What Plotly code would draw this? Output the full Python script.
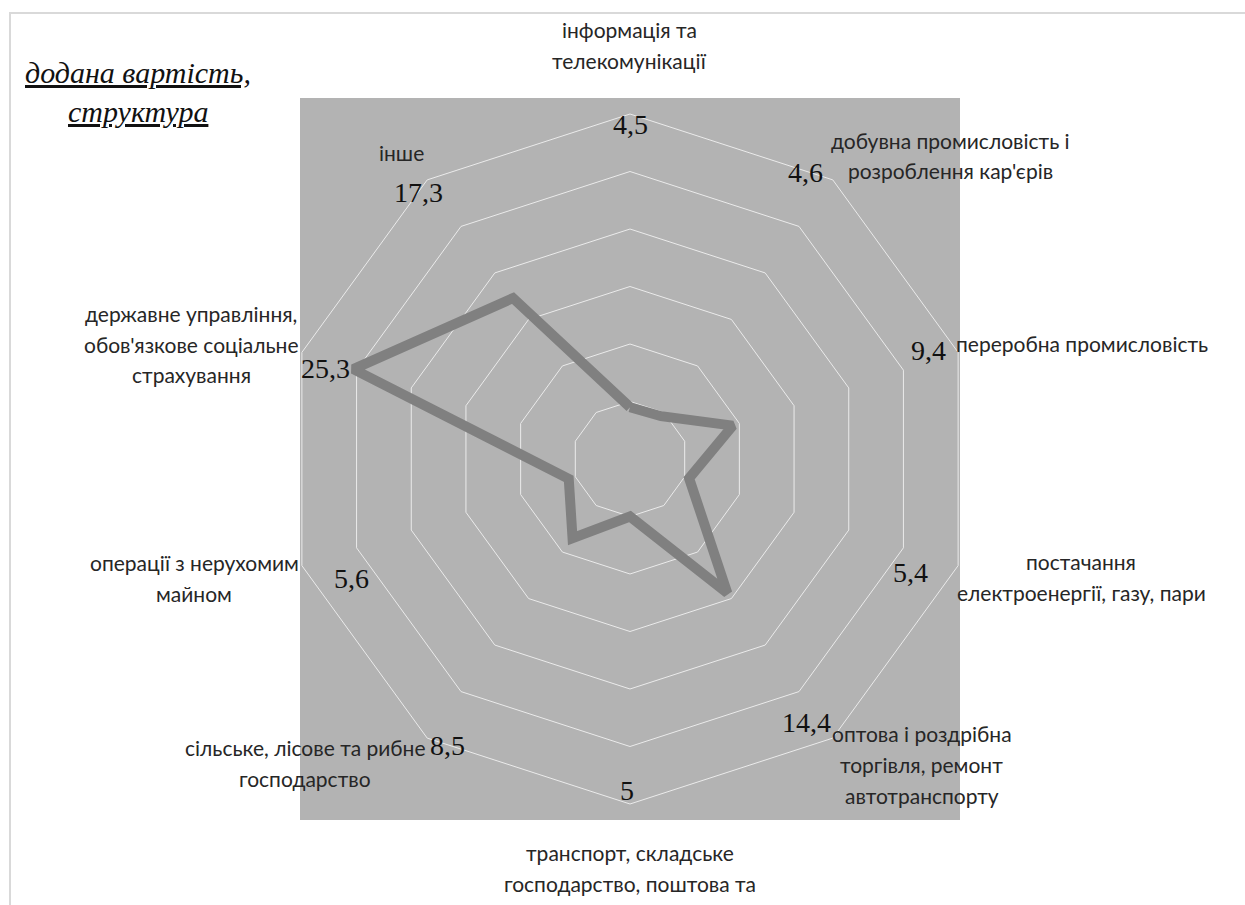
import plotly.graph_objects as go

# ---------------- data ----------------
categories = [
    "інформація та телекомунікації",
    "добувна промисловість і розроблення кар'єрів",
    "переробна промисловість",
    "постачання електроенергії, газу, пари",
    "оптова і роздрібна торгівля, ремонт автотранспорту",
    "транспорт, складське господарство, поштова та кур'єрська діяльність",
    "сільське, лісове та рибне господарство",
    "операції з нерухомим майном",
    "державне управління, обов'язкове соціальне страхування",
    "інше",
]
values = [4.5, 4.6, 9.4, 5.4, 14.4, 5, 8.5, 5.6, 25.3, 17.3]
label_lines = [
    ["інформація та", "телекомунікації"],
    ["добувна промисловість і", "розроблення кар'єрів"],
    ["переробна промисловість"],
    ["постачання", "електроенергії, газу, пари"],
    ["оптова і роздрібна", "торгівля, ремонт", "автотранспорту"],
    ["транспорт, складське", "господарство, поштова та", "кур'єрська діяльність"],
    ["сільське, лісове та рибне", "господарство"],
    ["операції з нерухомим", "майном"],
    ["державне управління,", "обов'язкове соціальне", "страхування"],
    ["інше"],
]
radial_grid = [5, 10, 15, 20, 25, 30]
title_lines = ["додана вартість,", "структура"]

# ---------------- layout helpers ----------------
W, H = 1245, 905


def px(x, y):
    return x / W, 1 - y / H


CX, CY, R = 630, 459, 345
SANS = "Lato, Open Sans, sans-serif"
SERIF = "Liberation Serif, Times New Roman, serif"

# label anchor positions (pixel centre x, first line centre y)
cat_label_pos = [(629, 29), (950, 140), (1082, 343), (1081, 561), (922, 733),
                 (630, 852), (305, 747), (194, 562), (191, 313), (402, 152)]
line_step = 31
value_label_pos = [(630, 125), (805, 172), (928, 350), (910, 572), (806, 722),
                   (627, 790), (447, 745), (352, 578), (325, 368), (418, 193)]

fig = go.Figure()
fig.add_trace(go.Scatterpolar(
    r=values + values[:1],
    theta=categories + categories[:1],
    mode="lines",
    line=dict(color="#808080", width=10),
    hoverinfo="skip",
    showlegend=False,
))

annotations = []
for lines, (x, y0) in zip(label_lines, cat_label_pos):
    for k, line in enumerate(lines):
        ax, ay = px(x, y0 + k * line_step)
        annotations.append(dict(
            x=ax, y=ay, xref="paper", yref="paper", text=line, showarrow=False,
            xanchor="center", yanchor="middle",
            font=dict(family=SANS, size=21, color="#262626"),
        ))
for v, (x, y) in zip(values, value_label_pos):
    ax, ay = px(x, y)
    annotations.append(dict(
        x=ax, y=ay, xref="paper", yref="paper",
        text=f"{v:g}".replace(".", ","), showarrow=False,
        xanchor="center", yanchor="middle",
        font=dict(family=SERIF, size=28, color="#111111"),
    ))
for k, t in enumerate(title_lines):
    ax, ay = px(138, 73 + k * 39)
    annotations.append(dict(
        x=ax, y=ay, xref="paper", yref="paper", text=f"<i><u>{t}</u></i>",
        showarrow=False, xanchor="center", yanchor="middle",
        font=dict(family=SERIF, size=30, color="#111111"),
    ))

bx0, by1 = px(300, 98)
bx1, by0 = px(960, 820)
fx0, fy1 = px(10, 13)

fig.update_layout(
    width=W, height=H,
    margin=dict(l=0, r=0, t=0, b=0),
    paper_bgcolor="white",
    showlegend=False,
    polar=dict(
        domain=dict(x=[(CX - R) / W, (CX + R) / W],
                    y=[(H - CY - R) / H, (H - CY + R) / H]),
        bgcolor="#b3b3b3",
        gridshape="linear",
        radialaxis=dict(range=[0, 30], tickvals=radial_grid, showticklabels=False,
                        ticks="", showline=False, gridcolor="#ebebeb", gridwidth=1),
        angularaxis=dict(direction="clockwise", rotation=90, showticklabels=False,
                         ticks="", showgrid=False, showline=True,
                         linecolor="#ebebeb", linewidth=1),
    ),
    shapes=[
        dict(type="rect", xref="paper", yref="paper", x0=bx0, x1=bx1, y0=by0, y1=by1,
             fillcolor="#b3b3b3", line=dict(width=0), layer="below"),
        dict(type="rect", xref="paper", yref="paper", x0=fx0, x1=1.02, y0=-0.02, y1=fy1,
             fillcolor="rgba(0,0,0,0)", line=dict(color="#d9d9d9", width=2), layer="below"),
    ],
    annotations=annotations,
)

fig.write_html(
    "out.html",
    config={"displayModeBar": False},
    post_script="document.body.style.margin='0';document.body.style.overflow='hidden';",
)
